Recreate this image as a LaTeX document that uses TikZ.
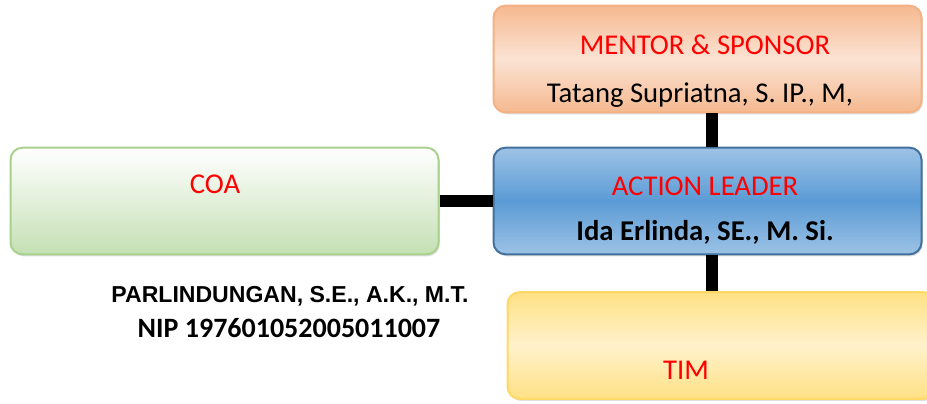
\documentclass[tikz,border=0pt]{standalone}
\usepackage{fontspec}
\setmainfont{Carlito}
\newfontfamily\arialfont{Liberation Sans}
\usetikzlibrary{shadows}

\definecolor{orangeedge}{HTML}{F4B183}
\definecolor{orangemid}{HTML}{FBE3D4}
\definecolor{blueedge}{HTML}{41719C}
\definecolor{bluelight}{HTML}{9DC3E6}
\definecolor{bluemid}{HTML}{5B9BD5}
\definecolor{greenedge}{HTML}{A9D18E}
\definecolor{greenlow}{HTML}{C5E0B4}
\definecolor{yellowedge}{HTML}{FFD966}
\definecolor{yellowmid}{HTML}{FFF2CC}

\begin{document}
\begin{tikzpicture}[%
x=0.75pt, y=-0.75pt,
box/.style={rounded corners=9pt, line width=1.5pt, minimum width=321pt, minimum height=80pt,
  drop shadow={opacity=0.25, shadow xshift=1pt, shadow yshift=-1.5pt}},
roletext/.style={anchor=base, inner sep=0pt, text=red, font=\fontsize{21.5}{24}\selectfont},
persontext/.style={anchor=base, inner sep=0pt, font=\fontsize{21.5}{24}\selectfont},
link/.style={line width=9pt},
]
\clip (0,0) rectangle (927,403);
\fill [white] (0,0) rectangle (927,403);
%% boxes;
\node [box, draw=orangeedge, top color=orangeedge!90, bottom color=orangeedge!90, middle color=orangemid] (mentor) at (707.5,59) {};
\node [box, draw=blueedge, top color=bluelight, bottom color=bluelight, middle color=bluemid] (leader) at (707.5,201) {};
\node [box, draw=greenedge, top color=white, bottom color=greenlow] (coa) at (224.5,201) {};
\node [box, draw=yellowedge, top color=yellowedge!80, bottom color=yellowedge!80, middle color=yellowmid] (tim) at (721.5,345.5) {};
%% links;
\draw [link] (mentor.south -| 712,0) -- (leader.north -| 712,0);
\draw [link] (coa.east) -- (leader.west);
\draw [link] (leader.south -| 712,0) -- (tim.north -| 712,0);
%% labels;
\node [roletext] (mentortitle) at (705,55) {MENTOR \& SPONSOR};
\node [persontext] (mentorname) at (700,103) {Tatang Supriatna, S. IP., M,};
\node [roletext] (leadertitle) at (705,195) {ACTION LEADER};
\node [persontext, font=\fontsize{21.5}{24}\selectfont\bfseries] (leadername) at (705,240) {Ida Erlinda, SE., M. Si.};
\node [roletext] (coatitle) at (215,193) {COA};
\node [roletext] (timtitle) at (686,379) {TIM};
%% coa person;
\node [anchor=base, inner sep=0pt, font=\arialfont\fontsize{17.3}{20}\selectfont\bfseries] (coaname) at (290,302) {PARLINDUNGAN, S.E., A.K., M.T.};
\node [persontext, font=\fontsize{21}{24}\selectfont\bfseries] (coanip) at (289,337) {NIP 197601052005011007};
\end{tikzpicture}
\end{document}
